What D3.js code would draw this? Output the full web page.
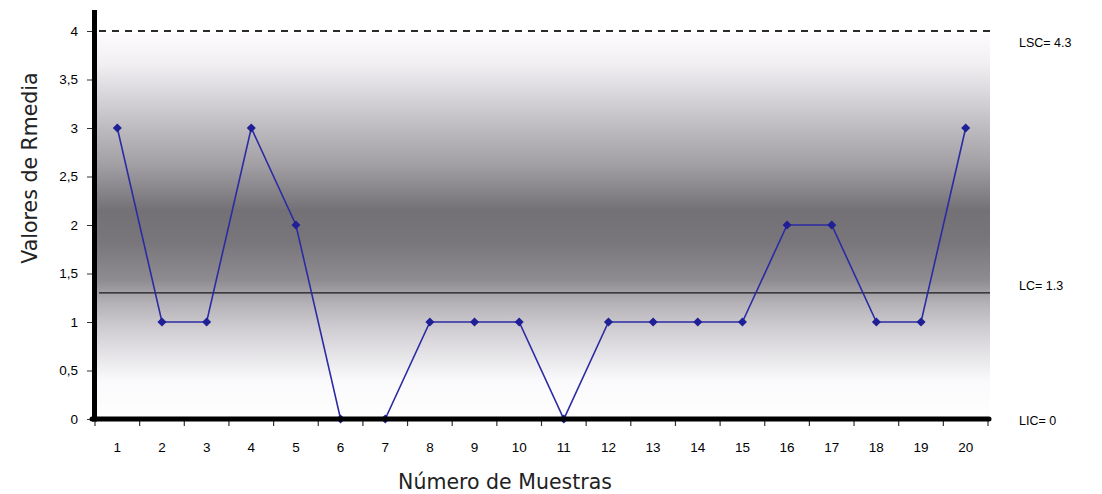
<!DOCTYPE html>
<html>
<head>
<meta charset="utf-8">
<script src="https://cdn.jsdelivr.net/npm/d3@7"></script>
<style>
  html, body { margin: 0; padding: 0; background: #ffffff; }
  svg { display: block; font-family: "Liberation Sans", Arial, sans-serif; }
</style>
</head>
<body>
<svg id="chart" width="1102" height="494"></svg>
<script>
// Muestras y rangos medios (gráfico de control R)
const muestras = d3.range(1, 21).map(String);
const rangos = [3, 1, 1, 3, 2, 0, 0, 1, 1, 1, 0, 1, 1, 1, 1, 2, 2, 1, 1, 3];
const yTicks = [0, 0.5, 1, 1.5, 2, 2.5, 3, 3.5, 4];
const limites = [
  { nombre: "LSC", valor: 4.3, estilo: "dashed" },
  { nombre: "LC", valor: 1.3, estilo: "solid" },
  { nombre: "LIC", valor: 0, estilo: "none" }
];

const svg = d3.select("#chart");
const plotLeft = 95, plotRight = 988, plotTop = 31, plotBottom = 419;

const x = d3.scaleBand().domain(muestras).range([plotLeft, plotRight]);
const y = d3.scaleLinear().domain([0, 4]).range([plotBottom, plotTop]).clamp(true);
const cx = d => x(d) + x.bandwidth() / 2;

// Fondo degradado del área de trazado
const defs = svg.append("defs");
const grad = defs.append("linearGradient")
  .attr("id", "fondo").attr("x1", 0).attr("y1", 0).attr("x2", 0).attr("y2", 1);
[
  [0, "#fdfbfe"], [0.08, "#f1eff2"], [0.25, "#bcbabf"], [0.34, "#a2a0a5"],
  [0.46, "#737176"], [0.54, "#78767b"], [0.64, "#8e8c91"], [0.7, "#b4b2b7"],
  [0.76, "#cdcbd0"], [0.9, "#faf9fb"], [1, "#ffffff"]
].forEach(([o, c]) => grad.append("stop").attr("offset", o).attr("stop-color", c));

svg.append("rect")
  .attr("x", plotLeft).attr("y", y(4) + 2)
  .attr("width", plotRight - plotLeft + 2).attr("height", plotBottom - y(4) - 2)
  .attr("fill", "url(#fondo)");

// Líneas de control
limites.filter(l => l.estilo !== "none").forEach(l => {
  svg.append("line")
    .attr("x1", plotLeft + 4).attr("x2", plotRight + 2)
    .attr("y1", y(l.valor)).attr("y2", y(l.valor))
    .attr("stroke", l.estilo === "dashed" ? "#2a2a2a" : "#1a1a1a")
    .attr("stroke-width", l.estilo === "dashed" ? 2 : 1.4)
    .attr("stroke-dasharray", l.estilo === "dashed" ? "7,6" : null);
});

// Serie de rangos
const linea = d3.line().x((d, i) => cx(muestras[i])).y(d => y(d));
svg.append("path")
  .datum(rangos)
  .attr("d", linea)
  .attr("fill", "none")
  .attr("stroke", "#2b2ba3")
  .attr("stroke-width", 1.6);

svg.selectAll(".punto")
  .data(rangos)
  .join("path")
  .attr("class", "punto")
  .attr("transform", (d, i) => `translate(${cx(muestras[i])},${y(d)})`)
  .attr("d", d3.symbol(d3.symbolDiamond2, 52))
  .attr("fill", "#1f1f96");

// Eje Y
const fmt = d => String(d).replace(".", ",");
const yAxis = svg.append("g")
  .attr("transform", `translate(${plotLeft - 3},0)`)
  .call(d3.axisLeft(y).tickValues(yTicks).tickFormat(fmt).tickSize(5).tickSizeOuter(0));
yAxis.select(".domain").remove();
yAxis.selectAll(".tick line").attr("stroke", "#333").attr("stroke-width", 1);
yAxis.selectAll(".tick text")
  .attr("x", -14).attr("font-size", 13.5).attr("fill", "#000")
  .attr("font-family", "'Liberation Sans', Arial, sans-serif");

svg.append("line")
  .attr("x1", plotLeft - 0.5).attr("x2", plotLeft - 0.5)
  .attr("y1", 10).attr("y2", plotBottom + 2.5)
  .attr("stroke", "#000").attr("stroke-width", 5);

// Eje X
const xAxis = svg.append("g")
  .attr("transform", `translate(0,${plotBottom + 3})`)
  .call(d3.axisBottom(x).tickSize(0));
xAxis.select(".domain").remove();
xAxis.selectAll(".tick text")
  .attr("dy", 0).attr("y", 30).attr("font-size", 13.5).attr("fill", "#000")
  .attr("font-family", "'Liberation Sans', Arial, sans-serif");

svg.append("g")
  .selectAll("line")
  .data(muestras.concat([null]))
  .join("line")
  .attr("x1", d => d === null ? plotRight : x(d))
  .attr("x2", d => d === null ? plotRight : x(d))
  .attr("y1", plotBottom + 2).attr("y2", plotBottom + 7)
  .attr("stroke", "#333").attr("stroke-width", 1.2);

svg.append("line")
  .attr("x1", plotLeft - 3).attr("x2", plotRight + 1)
  .attr("y1", plotBottom).attr("y2", plotBottom)
  .attr("stroke", "#000").attr("stroke-width", 5)
  .attr("stroke-linecap", "round");

// Etiquetas de los límites
limites.forEach(l => {
  svg.append("text")
    .attr("x", 1019)
    .attr("y", l.nombre === "LSC" ? y(l.valor) + 16 : l.nombre === "LC" ? y(l.valor) - 3 : y(l.valor) + 6)
    .attr("font-size", 12.5)
    .attr("fill", "#000")
    .text(`${l.nombre}= ${l.valor}`);
});

// Títulos de los ejes
svg.append("text")
  .attr("x", 505).attr("y", 489)
  .attr("text-anchor", "middle")
  .attr("font-family", "'DejaVu Sans', sans-serif")
  .attr("font-size", 20.5)
  .attr("fill", "#222")
  .text("Número de Muestras");

svg.append("text")
  .attr("transform", "translate(37,168) rotate(-90)")
  .attr("text-anchor", "middle")
  .attr("font-family", "'DejaVu Sans', sans-serif")
  .attr("font-size", 20.5)
  .attr("fill", "#222")
  .text("Valores de Rmedia");
</script>
</body>
</html>
